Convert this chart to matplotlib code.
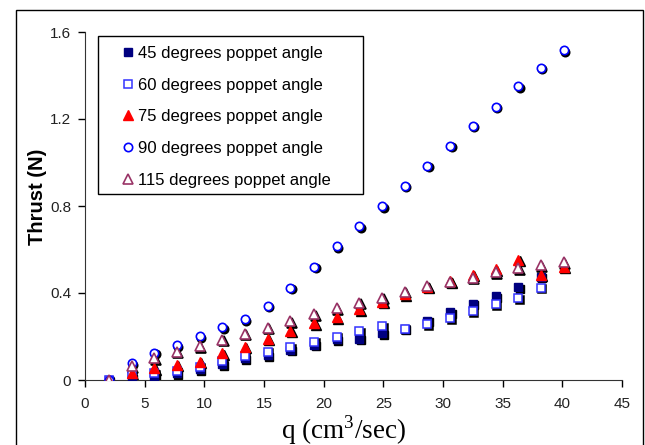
import matplotlib
matplotlib.use("Agg")
import matplotlib.pyplot as plt
from matplotlib.patches import Rectangle
from matplotlib.transforms import offset_copy

plt.rcParams['font.family'] = ['Liberation Sans', 'DejaVu Sans']
plt.rcParams['mathtext.fontset'] = 'custom'
plt.rcParams['mathtext.rm'] = 'Liberation Serif'

q_full = [2.0, 3.9, 5.8, 7.7, 9.6, 11.5, 13.4, 15.3, 17.2, 19.2, 21.1,
          23.0, 24.9, 26.8, 28.7, 30.6, 32.5, 34.4, 36.3, 38.2, 40.1]
q_short = q_full[:20]

thrust_45 = [0.0, 0.011, 0.015, 0.031, 0.049, 0.072, 0.1, 0.113, 0.138, 0.163, 0.187,
             0.19, 0.215, 0.236, 0.273, 0.311, 0.35, 0.386, 0.426, 0.475]
thrust_60 = [0.0, 0.027, 0.031, 0.041, 0.062, 0.086, 0.11, 0.13, 0.15, 0.176, 0.2,
             0.224, 0.248, 0.236, 0.257, 0.284, 0.317, 0.349, 0.375, 0.424]
thrust_75 = [0.0, 0.031, 0.054, 0.069, 0.084, 0.123, 0.153, 0.19, 0.227, 0.26, 0.288,
             0.326, 0.36, 0.394, 0.429, 0.455, 0.483, 0.509, 0.552, 0.483, 0.521]
thrust_90 = [0.0, 0.078, 0.125, 0.16, 0.202, 0.243, 0.28, 0.342, 0.423, 0.52, 0.616,
             0.708, 0.8, 0.892, 0.985, 1.077, 1.168, 1.257, 1.35, 1.436, 1.515]
thrust_115 = [0.0, 0.063, 0.1, 0.13, 0.156, 0.186, 0.213, 0.24, 0.269, 0.303, 0.33,
              0.355, 0.378, 0.406, 0.432, 0.452, 0.47, 0.495, 0.513, 0.528, 0.541]

labels = ['45 degrees poppet angle', '60 degrees poppet angle',
          '75 degrees poppet angle', '90 degrees poppet angle',
          '115 degrees poppet angle']

fig = plt.figure(figsize=(6.45, 4.45), dpi=100)
ax = fig.add_axes([85/645, 1-380/445, 537/645, 348/445])

shadow = offset_copy(ax.transData, fig=fig, x=1.5, y=-1.5, units='dots')

series = [
    (q_short, thrust_45, dict(marker='s', ms=5.5, mfc='#000080', mec='#000080', mew=1.0)),
    (q_short, thrust_60, dict(marker='s', ms=5.5, mfc='white', mec='#3333FF', mew=1.1)),
    (q_full, thrust_75, dict(marker='^', ms=7, mfc='#FF0000', mec='#FF0000', mew=1.0)),
    (q_full, thrust_90, dict(marker='o', ms=6, mfc='white', mec='#0000FF', mew=1.2)),
    (q_full, thrust_115, dict(marker='^', ms=7, mfc='white', mec='#993366', mew=1.2)),
]

handles = []
for (x, y, st), lab in zip(series, labels):
    ax.plot(x, y, linestyle='none', marker=st['marker'], ms=st['ms'],
            mfc='black', mec='black', mew=st['mew'], transform=shadow, zorder=2)
    h, = ax.plot(x, y, linestyle='none', zorder=3, label=lab, **st)
    handles.append(h)

ax.set_xlim(0, 45)
ax.set_ylim(0, 1.6)
ax.set_xticks(range(0, 46, 5))
ax.set_yticks([0, 0.4, 0.8, 1.2, 1.6])
ax.set_yticklabels(['0', '0.4', '0.8', '1.2', '1.6'])
ax.tick_params(direction='out', length=5, width=1, labelsize=11,
               labelcolor='#222222', pad=5)
ax.tick_params(axis='x', pad=7)
for s in ['top', 'right']:
    ax.spines[s].set_visible(False)
for s in ['left', 'bottom']:
    ax.spines[s].set_color('#333333')

ax.set_ylabel('Thrust (N)', fontsize=14.5, fontweight='bold')
ax.yaxis.set_label_coords((47-85)/537, (380-197)/348)
ax.set_xlabel('q (cm$^3$/sec)', fontsize=19.5, family='Liberation Serif')
ax.xaxis.set_label_coords((343-85)/537, -(413-380)/348)

leg = ax.legend(handles=handles, loc='upper left',
                bbox_to_anchor=((122.7-85)/537, (380-46)/348),
                frameon=False, borderpad=0, handlelength=0.6, handletextpad=0.34,
                labelspacing=1.0, fontsize=12, borderaxespad=0)

ax.add_patch(Rectangle(((98-85)/537, (380-194)/348), (363-98)/537, (194-36)/348,
                       transform=ax.transAxes, fill=False, edgecolor='black',
                       lw=1.0, zorder=5, clip_on=False))

fig.patches.append(Rectangle((16/645, -0.02), (643-16)/645, 1.02-10/445,
                             transform=fig.transFigure, fill=False,
                             edgecolor='black', lw=1.0))

fig.savefig('out.png', dpi=100)
